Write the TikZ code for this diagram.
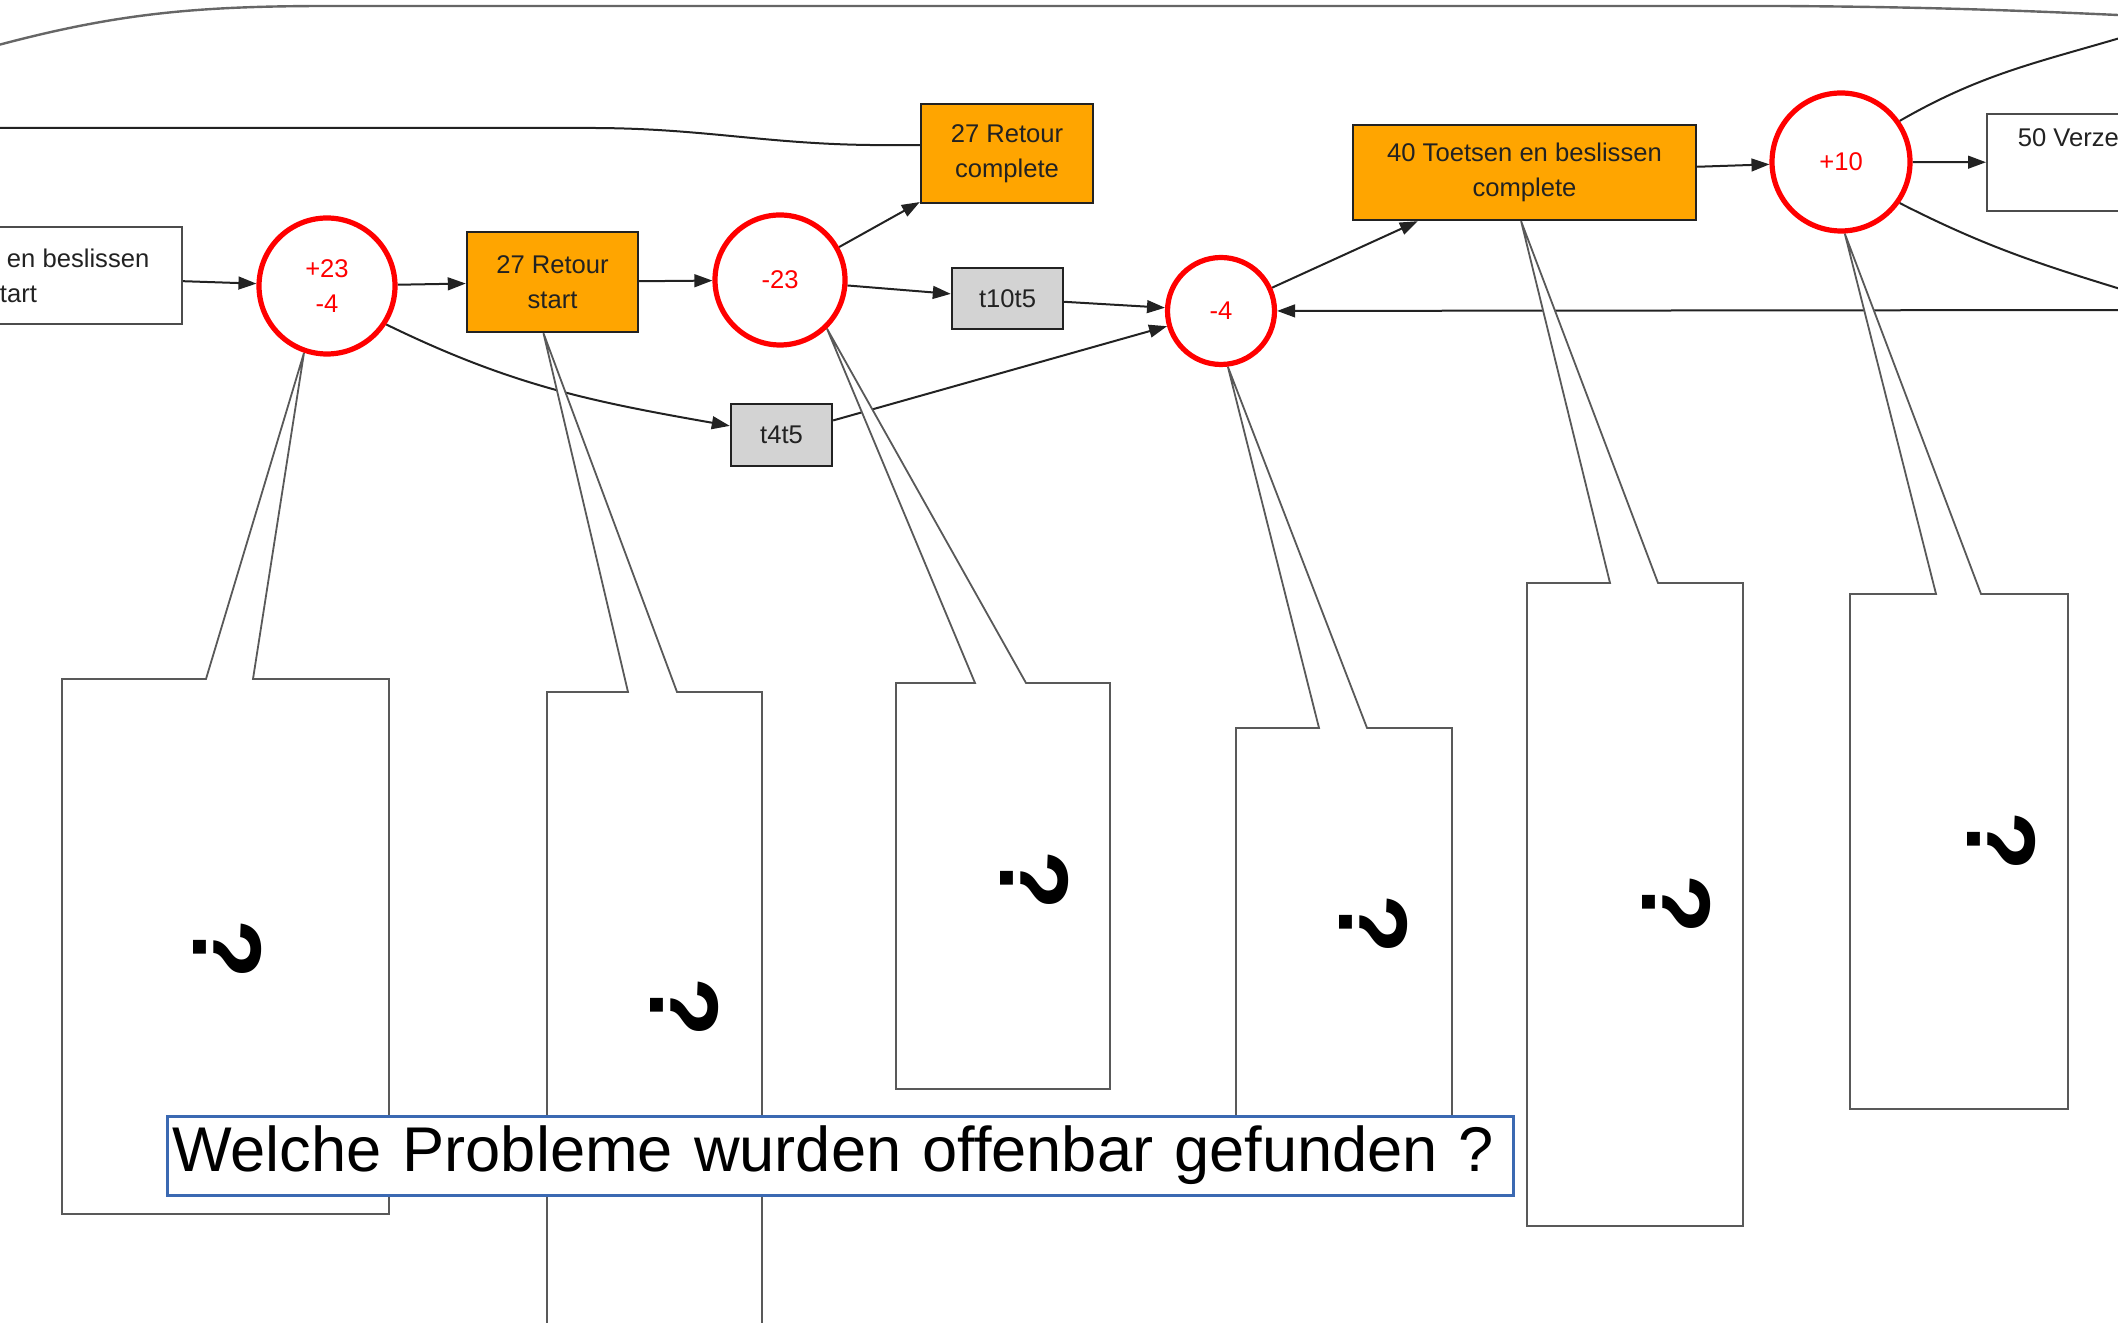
\documentclass[tikz,border=0pt]{standalone}
\usepackage{fontspec}
\setmainfont{Liberation Sans}
\usetikzlibrary{arrows.meta}
\definecolor{procorange}{HTML}{FFA500}
\definecolor{translight}{HTML}{D3D3D3}
\definecolor{bannerblue}{HTML}{3B69B2}
\definecolor{evtred}{HTML}{FF0000}
\definecolor{inkdark}{HTML}{222222}
\pgfdeclarelayer{edges}
\pgfdeclarelayer{notes}
\pgfsetlayers{edges,notes,main}

\begin{document}
\begin{tikzpicture}[x=0.25pt, y=-0.25pt,
  lbl/.style={font=\fontsize{6.4}{8.8}\selectfont, align=center},
  proc/.style={lbl, rectangle, draw=inkdark, line width=0.6pt, fill=procorange, text=inkdark, inner sep=0pt},
  plainbox/.style={proc, fill=white, draw=black!70},
  trans/.style={proc, fill=translight},
  evt/.style={lbl, circle, draw=evtred, line width=1.3pt, fill=white, text=evtred, inner sep=0pt},
  flow/.style={draw=inkdark, line width=0.5pt, -{Triangle[length=4.5pt,width=3.2pt]}},
  link/.style={draw=inkdark, line width=0.5pt},
  note/.style={draw=black!65, fill=white, line width=0.45pt, line join=miter},
  qmark/.style={font=\fontsize{24.4}{24.4}\selectfont\bfseries, rotate=-90, inner sep=0pt},
  banner/.style={draw=bannerblue, line width=0.75pt, fill=white, font=\fontsize{15.8}{18}\selectfont,
                 text width=334pt, align=left, inner xsep=1.25pt, inner ysep=0pt, minimum height=19.75pt}
]
\useasboundingbox (0,0) rectangle (2118,1323);
\clip (0,0) rectangle (2118,1323);

% process steps and events
\node[plainbox, minimum width=85pt, minimum height=24.25pt] (lb) at (12,275.5) {40 Toetsen en beslissen\\start};
\node[evt, minimum size=34pt] (c23) at (327,286) {+23\\-4};
\node[proc, minimum width=42.75pt, minimum height=25pt] (rs) at (552.5,282) {27 Retour\\start};
\node[evt, minimum size=32.5pt] (cm23) at (780,280) {-23};
\node[proc, minimum width=43pt, minimum height=24.75pt] (rc) at (1007,153.5) {27 Retour\\complete};
\node[trans, minimum width=27.75pt, minimum height=15.25pt] (t10) at (1007.5,298.5) {t10t5};
\node[trans, minimum width=25.25pt, minimum height=15.5pt] (t4) at (781.5,435) {t4t5};
\node[evt, minimum size=26.75pt] (cm4) at (1221,311) {-4};
\node[proc, minimum width=85.75pt, minimum height=23.75pt] (tc) at (1524.5,172.5) {40 Toetsen en beslissen\\complete};
\node[evt, minimum size=34.5pt] (cp10) at (1841,162) {+10};
\node[plainbox, minimum width=80pt, minimum height=24.25pt, anchor=west] (vz) at (1986,162.5) {};
\node[lbl, anchor=base west, text=inkdark, inner sep=0pt] (vzt) at (2017,147) {50 Verzenden};

% free ends of connectors leaving the drawing
\coordinate (rin) at (2140,310);
\coordinate (ur) at (2140,32);
\coordinate (dr) at (2140,295);
\coordinate (lt) at (-20,128);
\coordinate (tl) at (-20,50);
\coordinate (tr) at (2140,16);

\begin{pgfonlayer}{edges}
\draw[flow] (lb) -- (c23);
\draw[flow] (c23) -- (rs);
\draw[flow] (rs) -- (cm23);
\draw[flow] (cm23) -- (rc);
\draw[flow] (cm23) -- (t10);
\draw[flow] (c23.-33) to[out=-26, in=170] (t4.170);
\draw[flow] (t10) -- (cm4);
\draw[flow] (t4) -- (cm4);
\draw[flow] (cm4) -- (tc);
\draw[flow] (rin) -- (cm4);
\draw[flow] (tc) -- (cp10);
\draw[flow] (cp10) -- (vz);
\draw[link] (cp10.35) to[out=30, in=197] (ur);
\draw[link] (cp10.-35) to[out=-27, in=163] (dr);
\draw[link] ([yshift=2.1pt]rc.west) -- ++(-36,0) to[out=180, in=0] (590,128) -- (lt);
\draw[link, draw=black!60, line width=0.6pt] (tl) .. controls (110,14) and (190,6) .. (330,6)
  -- (1780,6) .. controls (1950,7) and (2050,12) .. (tr);
\end{pgfonlayer}

% callouts with a pointer to the step they belong to
\begin{pgfonlayer}{notes}
\draw[note] (206,679) -- (c23.-109) -- (253,679) -- (389,679) -- (389,1214) -- (62,1214) -- (62,679) -- cycle;
\draw[note] (628,692) -- (rs.-100) -- (677,692) -- (762,692) -- (762,1340) -- (547,1340) -- (547,692) -- cycle;
\draw[note] (975,683) -- (cm23.-46) -- (1026,683) -- (1110,683) -- (1110,1089) -- (896,1089) -- (896,683) -- cycle;
\draw[note] (1319,728) -- (cm4.-83) -- (1367,728) -- (1452,728) -- (1452,1150) -- (1236,1150) -- (1236,728) -- cycle;
\draw[note] (1610,583) -- (tc.-94) -- (1658,583) -- (1743,583) -- (1743,1226) -- (1527,1226) -- (1527,583) -- cycle;
\draw[note] (1936,594) -- (cp10.-87) -- (1981,594) -- (2068,594) -- (2068,1109) -- (1850,1109) -- (1850,594) -- cycle;
\end{pgfonlayer}

\node[qmark] (q1) at (228,949) {?};
\node[qmark] (q2) at (685,1007) {?};
\node[qmark] (q3) at (1035,880) {?};
\node[qmark] (q4) at (1374,924) {?};
\node[qmark] (q5) at (1677,904) {?};
\node[qmark] (q6) at (2002,841) {?};

\node[banner] (ask) at (840,1155.5) {Welche Probleme wurden offenbar gefunden ?};
\end{tikzpicture}
\end{document}
